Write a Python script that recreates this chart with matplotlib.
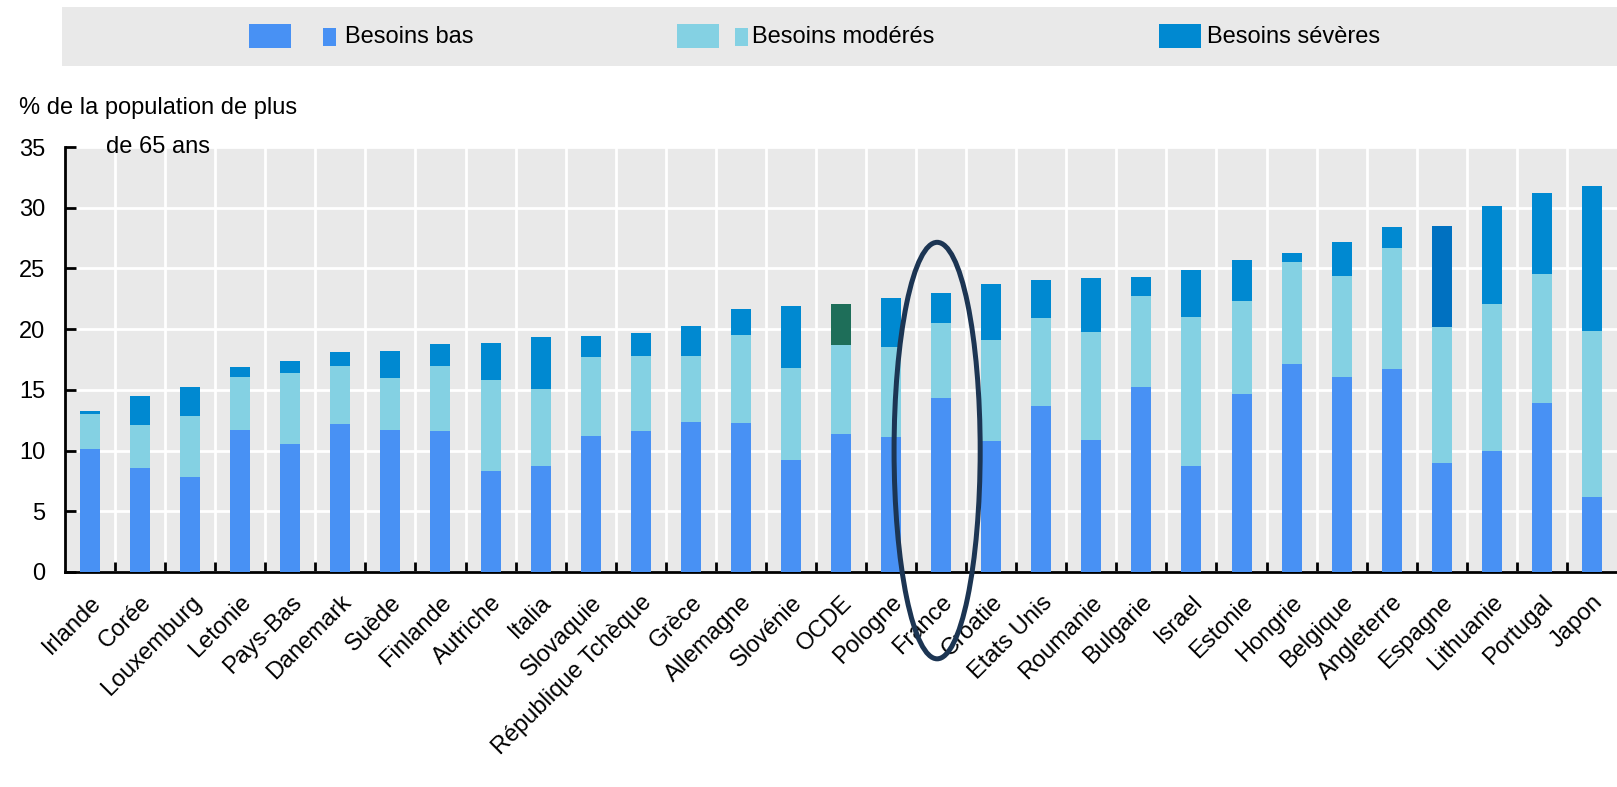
import matplotlib.pyplot as plt
from matplotlib.patches import Ellipse, Rectangle
import numpy as np

plt.rcParams['font.family'] = ['Liberation Sans', 'DejaVu Sans']

# Données (% de la population de plus de 65 ans)
pays = ['Irlande', 'Corée', 'Louxemburg', 'Letonie', 'Pays-Bas', 'Danemark', 'Suède',
        'Finlande', 'Autriche', 'Italia', 'Slovaquie', 'République Tchèque', 'Grèce',
        'Allemagne', 'Slovénie', 'OCDE', 'Pologne', 'France', 'Croatie', 'Etats Unis',
        'Roumanie', 'Bulgarie', 'Israel', 'Estonie', 'Hongrie', 'Belgique', 'Angleterre',
        'Espagne', 'Lithuanie', 'Portugal', 'Japon']
besoins_bas = [10.1, 8.6, 7.85, 11.7, 10.55, 12.15, 11.7, 11.6, 8.3, 8.7, 11.2, 11.6, 12.35,
               12.25, 9.2, 11.4, 11.1, 14.3, 10.75, 13.65, 10.85, 15.25, 8.75, 14.7, 17.1,
               16.1, 16.75, 9.0, 9.95, 13.95, 6.15]
besoins_moderes = [2.95, 3.5, 5.0, 4.4, 5.85, 4.85, 4.25, 5.35, 7.55, 6.35, 6.5, 6.15, 5.4,
                   7.25, 7.6, 7.3, 7.4, 6.2, 8.35, 7.3, 8.95, 7.45, 12.25, 7.6, 8.45,
                   8.3, 9.9, 11.2, 12.15, 10.6, 13.7]
besoins_severes = [0.2, 2.4, 2.35, 0.8, 1.0, 1.1, 2.25, 1.85, 3.0, 4.3, 1.75, 1.95, 2.55,
                   2.15, 5.1, 3.4, 4.05, 2.5, 4.65, 3.1, 4.4, 1.6, 3.85, 3.4, 0.75,
                   2.75, 1.75, 8.3, 8.0, 6.65, 11.95]

c_bas = '#4891F4'
c_mod = '#84D1E3'
c_sev = '#0089D1'
c_sev_special = {'OCDE': '#1E6E59', 'Espagne': '#0071C1'}

W, H = 1617, 787
fig = plt.figure(figsize=(W / 100, H / 100), dpi=100)
ax = fig.add_axes([65 / W, 1 - 572 / H, (W - 65) / W, (572 - 147) / H])

x = np.arange(len(pays))
bas = np.array(besoins_bas)
mod = np.array(besoins_moderes)
sev = np.array(besoins_severes)
sev_colors = [c_sev_special.get(p, c_sev) for p in pays]

ax.bar(x, bas, width=0.4, color=c_bas, zorder=3)
ax.bar(x, mod, width=0.4, bottom=bas, color=c_mod, zorder=3)
ax.bar(x, sev, width=0.4, bottom=bas + mod, color=sev_colors, zorder=3)

ax.set_facecolor('#E9E9E9')
ax.set_xlim(-0.5, len(pays) - 0.5)
ax.set_ylim(0, 35)
ax.set_yticks(range(0, 36, 5))
ax.set_xticks(x)
ax.set_xticks(x[:-1] + 0.5, minor=True)
ax.set_xticklabels(pays, rotation=45, ha='right', va='top', rotation_mode='anchor',
                   fontsize=17)
ax.tick_params(axis='y', direction='in', length=8, width=2, labelsize=17, pad=14)
ax.tick_params(axis='x', which='major', length=0, pad=14)
ax.tick_params(axis='x', which='minor', direction='in', length=7, width=2)

ax.yaxis.grid(True, color='white', linewidth=2)
ax.xaxis.grid(True, which='minor', color='white', linewidth=2)
ax.set_axisbelow(True)
for s in ['top', 'right']:
    ax.spines[s].set_visible(False)
for s in ['left', 'bottom']:
    ax.spines[s].set_linewidth(2)
    ax.spines[s].set_color('black')

# Titre de l'axe Y
fig.text(158 / W, 1 - 108 / H, '% de la population de plus', ha='center', va='center',
         fontsize=17)
fig.text(158 / W, 1 - 147 / H, 'de 65 ans', ha='center', va='center', fontsize=17)

# Ellipse autour de la France
i_fr = pays.index('France')
ax.add_patch(Ellipse((i_fr - 0.08, 10.0), 1.72, 34.3, fill=False, edgecolor='#1C3553',
                     linewidth=3.6, zorder=5, clip_on=False))

# Légende
fig.patches.append(Rectangle((62 / W, 1 - 66 / H), (W - 62) / W, 59 / H,
                             transform=fig.transFigure, facecolor='#E9E9E9',
                             edgecolor='none', zorder=0))
items = [(249, 323, 345, c_bas, 'Besoins bas'),
         (677, 735, 752, c_mod, 'Besoins modérés'),
         (1159, None, 1207, c_sev, 'Besoins sévères')]
for x_sq, x_small, x_txt, col, lab in items:
    fig.patches.append(Rectangle((x_sq / W, 1 - 48 / H), 42 / W, 24 / H,
                                 transform=fig.transFigure, facecolor=col,
                                 edgecolor='none', zorder=1))
    if x_small is not None:
        fig.patches.append(Rectangle((x_small / W, 1 - 46 / H), 13 / W, 18 / H,
                                     transform=fig.transFigure, facecolor=col,
                                     edgecolor='none', zorder=1))
    fig.text(x_txt / W, 1 - 37 / H, lab, ha='left', va='center', fontsize=17)

fig.savefig('out.png', dpi=100)
